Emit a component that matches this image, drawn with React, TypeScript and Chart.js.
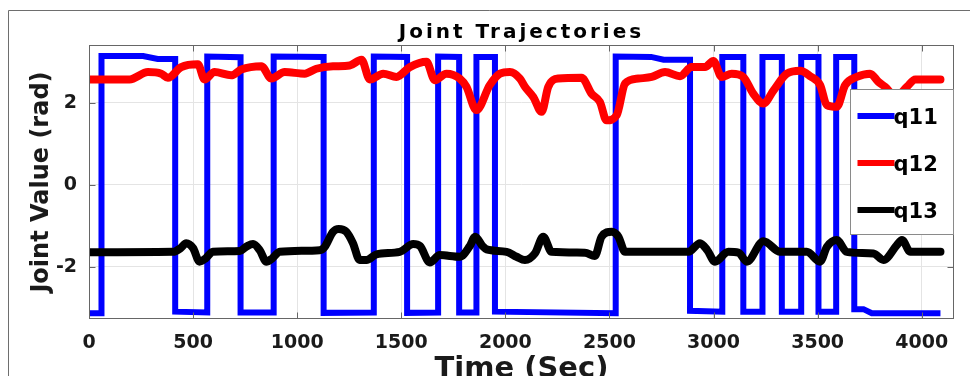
import React, { useEffect, useRef } from 'react';
import { Chart, registerables } from 'chart.js';

Chart.register(...registerables);

// ---------- data ----------
const chartTitle = 'Joint Trajectories';
const xAxisTitle = 'Time (Sec)';
const yAxisTitle = 'Joint Value (rad)';
const xTickValues = [0, 500, 1000, 1500, 2000, 2500, 3000, 3500, 4000];
const yTickValues = [-2, 0, 2];
const seriesLabels = ['q11', 'q12', 'q13'];
const seriesColors = ['#0000ff', '#ff0000', '#000000'];

const q11Time = [0, 60, 60, 260, 330, 414, 414, 568, 568, 728, 728, 887, 887, 1127, 1127, 1368, 1368, 1528, 1528, 1677, 1677, 1778, 1778, 1861, 1861, 1950, 1950, 2530, 2530, 2700, 2760, 2887, 2887, 3042, 3042, 3143, 3143, 3235, 3235, 3328, 3328, 3421, 3421, 3504, 3504, 3589, 3589, 3676, 3676, 3720, 3760, 4090];
const q11Value = [-3.14, -3.14, 3.14, 3.14, 3.07, 3.07, -3.10, -3.12, 3.13, 3.11, -3.12, -3.12, 3.13, 3.12, -3.13, -3.12, 3.13, 3.12, -3.13, -3.12, 3.13, 3.12, -3.12, -3.12, 3.12, 3.12, -3.10, -3.14, 3.13, 3.12, 3.05, 3.05, -3.08, -3.10, 3.12, 3.12, -3.10, -3.10, 3.12, 3.12, -3.10, -3.10, 3.12, 3.12, -3.10, -3.10, 3.12, 3.12, -3.04, -3.04, -3.14, -3.14];

const q12Time = [0, 195, 283, 347, 379, 443, 523, 555, 603, 683, 731, 828, 876, 940, 1036, 1092, 1172, 1252, 1309, 1349, 1413, 1477, 1541, 1621, 1661, 1717, 1781, 1813, 1861, 1925, 1974, 2022, 2070, 2094, 2134, 2174, 2206, 2254, 2366, 2414, 2454, 2486, 2535, 2575, 2639, 2703, 2767, 2839, 2895, 2959, 2999, 3039, 3087, 3143, 3191, 3240, 3288, 3352, 3416, 3464, 3512, 3544, 3592, 3632, 3688, 3752, 3792, 3824, 3875, 3929, 3969, 4090];
const q12Value = [2.57, 2.57, 2.75, 2.71, 2.61, 2.87, 2.94, 2.57, 2.75, 2.67, 2.81, 2.89, 2.59, 2.75, 2.71, 2.83, 2.89, 2.91, 3.05, 2.57, 2.71, 2.63, 2.87, 3.00, 2.55, 2.71, 2.59, 2.39, 1.82, 2.43, 2.71, 2.75, 2.59, 2.39, 2.14, 1.78, 2.39, 2.59, 2.61, 2.22, 2.02, 1.57, 1.70, 2.47, 2.59, 2.63, 2.75, 2.65, 2.87, 2.87, 3.02, 2.63, 2.71, 2.63, 2.22, 1.98, 2.30, 2.71, 2.78, 2.65, 2.43, 1.94, 1.90, 2.43, 2.63, 2.71, 2.51, 2.39, 2.15, 2.39, 2.57, 2.57];

const q13Time = [0, 403, 440, 467, 500, 531, 560, 595, 724, 760, 788, 820, 852, 880, 916, 1108, 1132, 1172, 1200, 1236, 1268, 1300, 1333, 1381, 1493, 1557, 1590, 1637, 1685, 1781, 1829, 1855, 1890, 1910, 2006, 2054, 2094, 2142, 2182, 2222, 2382, 2430, 2462, 2511, 2543, 2575, 2879, 2935, 2970, 3007, 3071, 3120, 3160, 3240, 3320, 3448, 3512, 3544, 3592, 3640, 3768, 3816, 3880, 3905, 3945, 4090];
const q13Value = [-1.65, -1.64, -1.55, -1.43, -1.55, -1.88, -1.80, -1.64, -1.62, -1.50, -1.45, -1.60, -1.88, -1.80, -1.64, -1.60, -1.52, -1.15, -1.08, -1.15, -1.43, -1.84, -1.84, -1.70, -1.64, -1.45, -1.50, -1.90, -1.72, -1.76, -1.50, -1.27, -1.50, -1.58, -1.64, -1.76, -1.84, -1.68, -1.27, -1.64, -1.66, -1.74, -1.27, -1.15, -1.27, -1.64, -1.64, -1.43, -1.60, -1.88, -1.64, -1.66, -1.88, -1.38, -1.64, -1.64, -1.88, -1.52, -1.35, -1.64, -1.68, -1.84, -1.48, -1.35, -1.64, -1.64];

const xMin = 0;
const xMax = 4155;
const yMin = -3.28;
const yMax = 3.41;

const FONT = "'DejaVu Sans', 'Liberation Sans', Arial, sans-serif";

const zip = (t: number[], v: number[]) => t.map((x, i) => ({ x, y: v[i] }));

export default function App() {
  const ref = useRef<HTMLCanvasElement | null>(null);

  useEffect(() => {
    const canvas = ref.current;
    if (!canvas) return;

    const decorPlugin: any = {
      id: 'matlabDecor',
      afterInit(chart: any) {
        const tb = chart.titleBlock;
        if (tb && !tb.__spaced) {
          const orig = tb.draw;
          tb.draw = function (...args: any[]) {
            const ctx: any = chart.ctx;
            const prev = ctx.letterSpacing;
            try { ctx.letterSpacing = '3px'; } catch (e) { /* ignore */ }
            orig.apply(this, args);
            try { ctx.letterSpacing = prev || '0px'; } catch (e) { /* ignore */ }
          };
          tb.__spaced = true;
        }
      },
      beforeDraw(chart: any) {
        const ctx = chart.ctx;
        ctx.save();
        ctx.fillStyle = '#ffffff';
        ctx.fillRect(0, 0, chart.width, chart.height);
        ctx.strokeStyle = '#6e6e6e';
        ctx.lineWidth = 1;
        ctx.beginPath();
        ctx.moveTo(8.5, chart.height);
        ctx.lineTo(8.5, 10.5);
        ctx.lineTo(chart.width, 10.5);
        ctx.stroke();
        ctx.restore();
      },
      afterDatasetsDraw(chart: any) {
        const { ctx, chartArea: a } = chart;
        const xs = chart.scales.x;
        const ys = chart.scales.y;
        const L = Math.round(a.left) + 0.5;
        const R = Math.round(a.right) - 0.5;
        const T = Math.round(a.top) + 0.5;
        const B = Math.round(a.bottom) - 0.5;
        ctx.save();
        ctx.strokeStyle = '#666666';
        ctx.lineWidth = 1;
        ctx.strokeRect(L, T, R - L, B - T);
        const tl = 6;
        ctx.beginPath();
        xTickValues.forEach((v) => {
          const px = Math.round(xs.getPixelForValue(v)) + 0.5;
          ctx.moveTo(px, B);
          ctx.lineTo(px, B - tl);
          ctx.moveTo(px, T);
          ctx.lineTo(px, T + tl);
        });
        yTickValues.forEach((v) => {
          const py = Math.round(ys.getPixelForValue(v)) + 0.5;
          ctx.moveTo(L, py);
          ctx.lineTo(L + tl, py);
          ctx.moveTo(R, py);
          ctx.lineTo(R - tl, py);
        });
        ctx.stroke();
        ctx.restore();
      },
      afterDraw(chart: any) {
        const { ctx, chartArea: a } = chart;
        const w = 103;
        const h = 145;
        const x0 = Math.round(a.right) - 1 - w + 0.5;
        const y0 = Math.round(a.top) + 44 + 0.5;
        ctx.save();
        ctx.fillStyle = '#ffffff';
        ctx.fillRect(x0, y0, w, h);
        ctx.strokeStyle = '#8a8a8a';
        ctx.lineWidth = 1;
        ctx.strokeRect(x0, y0, w, h);
        chart.data.datasets.forEach((ds: any, i: number) => {
          const cy = y0 + 26.5 + i * 47;
          ctx.strokeStyle = ds.borderColor;
          ctx.lineWidth = 6;
          ctx.lineCap = 'butt';
          ctx.beginPath();
          ctx.moveTo(x0 + 7, cy);
          ctx.lineTo(x0 + 44, cy);
          ctx.stroke();
          ctx.fillStyle = '#000000';
          ctx.font = `bold 21px ${FONT}`;
          ctx.textAlign = 'left';
          ctx.textBaseline = 'alphabetic';
          ctx.fillText(ds.label, x0 + 43, cy + 8);
        });
        ctx.restore();
      },
    };

    const chart = new Chart(canvas, {
      type: 'line',
      data: {
        datasets: [
          {
            label: seriesLabels[0],
            data: zip(q11Time, q11Value),
            borderColor: seriesColors[0],
            backgroundColor: seriesColors[0],
            borderWidth: 6,
            tension: 0,
            borderJoinStyle: 'miter',
            pointRadius: 0,
            order: 3,
          },
          {
            label: seriesLabels[1],
            data: zip(q12Time, q12Value),
            borderColor: seriesColors[1],
            backgroundColor: seriesColors[1],
            borderWidth: 8,
            cubicInterpolationMode: 'monotone',
            borderJoinStyle: 'round',
            borderCapStyle: 'round',
            pointRadius: 0,
            order: 2,
          },
          {
            label: seriesLabels[2],
            data: zip(q13Time, q13Value),
            borderColor: seriesColors[2],
            backgroundColor: seriesColors[2],
            borderWidth: 8,
            cubicInterpolationMode: 'monotone',
            borderJoinStyle: 'round',
            borderCapStyle: 'round',
            pointRadius: 0,
            order: 1,
          },
        ],
      },
      options: {
        responsive: false,
        devicePixelRatio: 1,
        animation: false,
        events: [],
        layout: { padding: { left: 0, right: 16, top: 0, bottom: 0 } },
        plugins: {
          legend: { display: false },
          tooltip: { enabled: false },
          title: {
            display: true,
            text: chartTitle,
            color: '#000000',
            fullSize: false,
            font: { family: FONT, size: 20, weight: 'bold', lineHeight: 1.2 },
            padding: { top: 20.7, bottom: 0.3 },
          },
        },
        scales: {
          x: {
            type: 'linear',
            min: xMin,
            max: xMax,
            afterBuildTicks: (s: any) => {
              s.ticks = xTickValues.map((v) => ({ value: v }));
            },
            afterFit: (s: any) => {
              s.height = 57;
            },
            grid: { color: '#e4e4e4', lineWidth: 1, drawTicks: false },
            border: { display: false },
            ticks: {
              autoSkip: false,
              maxRotation: 0,
              padding: 13,
              color: '#1a1a1a',
              font: { family: FONT, size: 19, weight: 'bold' },
              callback: (v: any) => String(v),
            },
            title: {
              display: true,
              text: xAxisTitle,
              color: '#1a1a1a',
              font: { family: FONT, size: 29, weight: 'bold', lineHeight: 1 },
              padding: { top: 0, bottom: -7.7 },
            },
          },
          y: {
            type: 'linear',
            min: yMin,
            max: yMax,
            afterBuildTicks: (s: any) => {
              s.ticks = yTickValues.map((v) => ({ value: v }));
            },
            afterFit: (s: any) => {
              s.width = 89;
            },
            grid: { color: '#e4e4e4', lineWidth: 1, drawTicks: false },
            border: { display: false },
            ticks: {
              padding: 12,
              color: '#1a1a1a',
              font: { family: FONT, size: 19, weight: 'bold' },
              callback: (v: any) => String(v),
            },
            title: {
              display: true,
              text: yAxisTitle,
              color: '#1a1a1a',
              font: { family: FONT, size: 24, weight: 'bold', lineHeight: 1.2 },
              padding: { top: 27.6, bottom: 0 },
            },
          },
        },
      } as any,
      plugins: [decorPlugin],
    });

    return () => {
      chart.destroy();
    };
  }, []);

  return (
    <div style={{ position: 'fixed', left: 0, top: 0, width: 970, height: 376, background: '#ffffff' }}>
      <canvas ref={ref} width={970} height={376} style={{ display: 'block', width: 970, height: 376 }} />
    </div>
  );
}
